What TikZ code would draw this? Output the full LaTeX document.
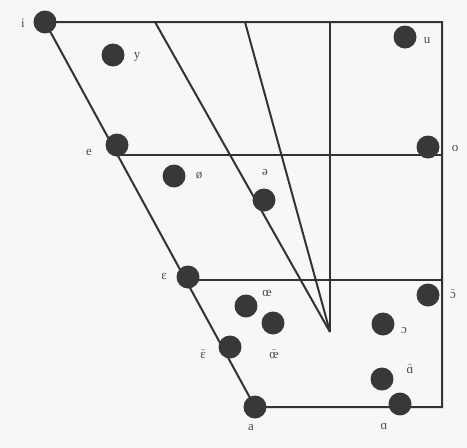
\documentclass[tikz,border=0pt]{standalone}
\usepackage{fontspec}
\setmainfont{Liberation Serif}
\newcommand\nasal[1]{$\tilde{\mbox{#1}}$}
\begin{document}
\begin{tikzpicture}[x=1pt,y=-1pt,
  dot/.style={circle,fill=black!78,inner sep=0pt,minimum size=23pt},
  ln/.style={draw=black!80,line width=2pt},
  lab/.style={font=\fontsize{13}{13}\selectfont,text=black!70,inner sep=1pt}]
\useasboundingbox[fill=black!3] (0,0) rectangle (467,448);
% frame coordinates
\coordinate (tl) at (45,22);
\coordinate (tr) at (442,22);
\coordinate (br) at (442,407);
\coordinate (bl) at (255,407);
\coordinate (el) at (114,155);
\coordinate (er) at (442,155);
\coordinate (epl) at (186,280);
\coordinate (epr) at (442,280);
\coordinate (t1) at (155,22);
\coordinate (t2) at (245,22);
\coordinate (t3) at (330,22);
\coordinate (c) at (330,332);
% lines
\draw[ln] (tl) -- (tr) -- (br) -- (bl) -- cycle;
\draw[ln] (el) -- (er);
\draw[ln] (epl) -- (epr);
\draw[ln] (t1) -- (c);
\draw[ln] (t2) -- (c);
\draw[ln] (t3) -- (c);
% dots
\node[dot] (i) at (45,22) {};
\node[dot] (y) at (113,55) {};
\node[dot] (e) at (117,145) {};
\node[dot] (oe1) at (174,176) {};
\node[dot] (schwa) at (264,200) {};
\node[dot] (u) at (405,37) {};
\node[dot] (o) at (428,147) {};
\node[dot] (eps) at (188,277) {};
\node[dot] (oe) at (246,306) {};
\node[dot] (oen) at (273,323) {};
\node[dot] (epsn) at (230,347) {};
\node[dot] (a) at (255,407) {};
\node[dot] (opn) at (428,295) {};
\node[dot] (op) at (383,324) {};
\node[dot] (aan) at (382,379) {};
\node[dot] (aa) at (400,404) {};
% labels
\node[lab] (li) at (23,23) {i};
\node[lab] (ly) at (137,57) {y};
\node[lab] (le) at (89,152) {e};
\node[lab] (lo1) at (199,176) {ø};
\node[lab] (lsch) at (265,172) {ə};
\node[lab] (lu) at (427,41) {u};
\node[lab] (lo) at (455,148) {o};
\node[lab] (leps) at (164,276) {ɛ};
\node[lab] (loe) at (267,293) {œ};
\node[lab] (loen) at (274,354) {\nasal{œ}};
\node[lab] (lepsn) at (203,354) {\nasal{ɛ}};
\node[lab] (la) at (251,428) {a};
\node[lab] (lopn) at (453,294) {\nasal{ɔ}};
\node[lab] (lop) at (404,330) {ɔ};
\node[lab] (laan) at (410,369) {\nasal{ɑ}};
\node[lab] (laa) at (384,426) {ɑ};
\end{tikzpicture}
\end{document}
